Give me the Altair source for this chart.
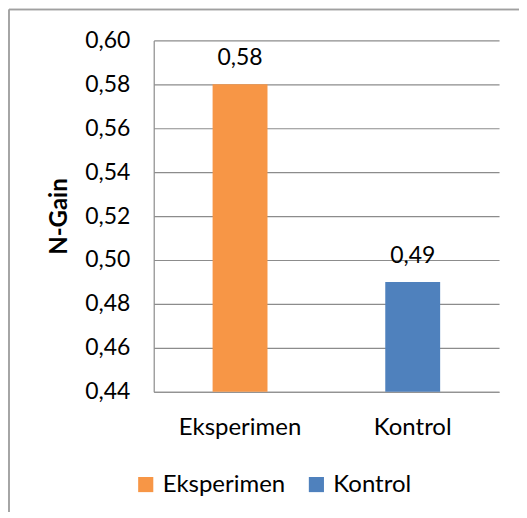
import altair as alt
import pandas as pd

categories = ["Eksperimen", "Kontrol"]
values = [0.58, 0.49]
colors = ["#F79646", "#4F81BD"]
y_ticks = [0.44, 0.46, 0.48, 0.50, 0.52, 0.54, 0.56, 0.58, 0.60]

df = pd.DataFrame({"kelompok": categories, "ngain": values})

FONT = "Lato"
W, H = 346, 352

x_enc = alt.X("kelompok:N", sort=categories,
              scale=alt.Scale(paddingInner=0, paddingOuter=0),
              axis=alt.Axis(title=None, labelAngle=0, labelFontSize=24, labelPadding=24,
                            labelColor="#000000", domainColor="#8c8c8c", domainWidth=1.2,
                            ticks=False, grid=False, labelFont=FONT))
y_enc = alt.Y("ngain:Q",
              scale=alt.Scale(domain=[0.44, 0.60], nice=False, zero=False, clamp=True),
              axis=alt.Axis(title="N-Gain", values=y_ticks, titleFontSize=24, titleFontWeight="bold",
                            titleFont=FONT, titleColor="#000000", titlePadding=13,
                            labelExpr="replace(format(datum.value, '.2f'), '.', ',')",
                            labelFontSize=23, labelFont=FONT, labelColor="#000000", labelPadding=24,
                            ticks=False, domainColor="#8c8c8c", domainWidth=1.2,
                            grid=True, gridColor="#8c8c8c", gridWidth=1.2))

bars = alt.Chart(df).mark_bar(size=55).encode(
    x=x_enc,
    y=y_enc,
    color=alt.Color("kelompok:N", sort=categories,
                    scale=alt.Scale(domain=categories, range=colors),
                    legend=alt.Legend(title=None, orient="none", direction="horizontal",
                                      legendX=-20, legendY=433, symbolType="square",
                                      symbolSize=230, symbolStrokeWidth=0, labelFontSize=24,
                                      labelFont=FONT, labelColor="#000000", columnPadding=19,
                                      labelOffset=5)),
)

labels = alt.Chart(df).transform_calculate(
    lbl="replace(format(datum.ngain, '.2f'), '.', ',')"
).mark_text(fontSize=23, font=FONT, baseline="alphabetic", dy=-19, color="#000000").encode(
    x=alt.X("kelompok:N", sort=categories),
    y=alt.Y("ngain:Q"),
    text="lbl:N",
)

border_v = alt.Chart(df).mark_rule(color="#a0a0a0", strokeWidth=1.5).encode(
    x=alt.value(-145), y=alt.value(-31), y2=alt.value(500))
border_h = alt.Chart(df).mark_rule(color="#a0a0a0", strokeWidth=1.5).encode(
    x=alt.value(-145), x2=alt.value(520), y=alt.value(-31))

chart = alt.layer(bars, labels, border_v, border_h).properties(
    width=W, height=H,
    autosize=alt.AutoSizeParams(type="none"),
    padding={"left": 146, "top": 32, "right": 20, "bottom": 120},
    view=alt.ViewBackground(strokeWidth=0, strokeOpacity=0),
).configure(background="#ffffff", view=alt.ViewConfig(strokeWidth=0, strokeOpacity=0))

chart.save("out.html", embed_options={"renderer": "svg", "actions": False})
